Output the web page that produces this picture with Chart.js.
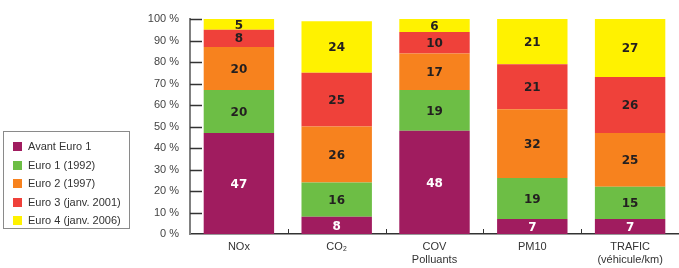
<!DOCTYPE html>
<html>
<head>
<meta charset="utf-8">
<script src="https://cdn.jsdelivr.net/npm/chart.js@4/dist/chart.umd.min.js"></script>
<style>
  body { margin: 0; background: #fff; }
  #wrap { position: relative; width: 679px; height: 268px; }
  #legend {
    position: absolute; left: 3px; top: 131px; width: 125px; height: 96px;
    border: 1px solid #8a8a8a; font: 11px "Liberation Sans", Arial, sans-serif; color: #333;
  }
  #legend .item { position: absolute; left: 9px; height: 12px; line-height: 12px; white-space: nowrap; }
  #legend .sw { display: inline-block; width: 9px; height: 9px; margin-right: 6px; vertical-align: -1px; }
</style>
</head>
<body>
<div id="wrap">
  <canvas id="chart" width="679" height="268"></canvas>
  <div id="legend"></div>
</div>
<script>
const categories = ['NOx', 'CO₂', ['COV', 'Polluants'], 'PM10', ['TRAFIC', '(véhicule/km)']];
const seriesNames = ['Avant Euro 1', 'Euro 1 (1992)', 'Euro 2 (1997)', 'Euro 3 (janv. 2001)', 'Euro 4 (janv. 2006)'];
const seriesColors = ['#a01c5f', '#6dbe45', '#f7821e', '#ef413a', '#fff200'];
const avantEuro1 = [47, 8, 48, 7, 7];
const euro1 = [20, 16, 19, 19, 15];
const euro2 = [20, 26, 17, 32, 25];
const euro3 = [8, 25, 10, 21, 26];
const euro4 = [5, 24, 6, 21, 27];
const yTicks = [0, 10, 20, 30, 40, 50, 60, 70, 80, 90, 100];

const seriesValues = [avantEuro1, euro1, euro2, euro3, euro4];

// legend on the left
const legend = document.getElementById('legend');
seriesNames.forEach((name, i) => {
    const item = document.createElement('div');
    item.className = 'item';
    item.style.top = (8 + i * 18.5) + 'px';
    item.innerHTML = '<span class="sw" style="background:' + seriesColors[i] + '"></span>' + name;
    legend.appendChild(item);
});

// value labels inside the bars + tick marks inside the axes
const barLabels = {
    id: 'barLabels',
    afterDatasetsDraw(chart) {
        const ctx = chart.ctx;
        ctx.save();
        ctx.font = 'bold 12px "DejaVu Sans", sans-serif';
        ctx.textAlign = 'center';
        ctx.textBaseline = 'middle';
        chart.data.datasets.forEach((ds, di) => {
            const meta = chart.getDatasetMeta(di);
            meta.data.forEach((bar, i) => {
                ctx.fillStyle = di === 0 ? '#ffffff' : '#231f20';
                ctx.fillText(ds.data[i], bar.x, (bar.y + bar.base) / 2 + 1);
            });
        });
        ctx.restore();
    },
    afterDraw(chart) {
        const ctx = chart.ctx;
        const x = chart.scales.x, y = chart.scales.y;
        const area = chart.chartArea;
        ctx.save();
        ctx.strokeStyle = '#333';
        ctx.lineWidth = 1.5;
        yTicks.forEach(v => {
            if (v === 0) return;
            const py = Math.round(y.getPixelForValue(v)) + 0.5;
            ctx.beginPath();
            ctx.moveTo(area.left, py);
            ctx.lineTo(area.left + 12, py);
            ctx.stroke();
        });
        ctx.lineWidth = 1;
        for (let i = 1; i < categories.length; i++) {
            const px = Math.round((x.getPixelForValue(i - 1) + x.getPixelForValue(i)) / 2) + 0.5;
            ctx.beginPath();
            ctx.moveTo(px, area.bottom);
            ctx.lineTo(px, area.bottom - 5);
            ctx.stroke();
        }
        ctx.restore();
    }
};

new Chart(document.getElementById('chart'), {
    type: 'bar',
    data: {
        labels: categories,
        datasets: seriesNames.map((name, i) => ({
            label: name,
            data: seriesValues[i],
            backgroundColor: seriesColors[i],
            borderWidth: 0,
            categoryPercentage: 1,
            barPercentage: 0.72
        }))
    },
    options: {
        responsive: false,
        animation: false,
        layout: { padding: { top: 19, right: 0, left: 0, bottom: 0 } },
        plugins: {
            legend: { display: false },
            tooltip: { enabled: false }
        },
        scales: {
            x: {
                stacked: true,
                grid: { display: false, drawTicks: false },
                border: { color: '#333', width: 1.5 },
                ticks: {
                    color: '#333',
                    padding: 6,
                    maxRotation: 0,
                    font: { family: '"Liberation Sans", Arial, sans-serif', size: 11, lineHeight: 1.2 }
                },
                afterFit: function(scale) { scale.height = 34; }
            },
            y: {
                stacked: true,
                min: 0,
                max: 100,
                grid: { display: false, drawTicks: false },
                border: { color: '#808080', width: 2 },
                ticks: {
                    stepSize: 10,
                    color: '#444',
                    padding: 11,
                    font: { family: '"Liberation Sans", Arial, sans-serif', size: 11 },
                    callback: v => v + ' %'
                },
                afterFit: function(scale) { scale.width = 190; }
            }
        }
    },
    plugins: [barLabels]
});
</script>
</body>
</html>
